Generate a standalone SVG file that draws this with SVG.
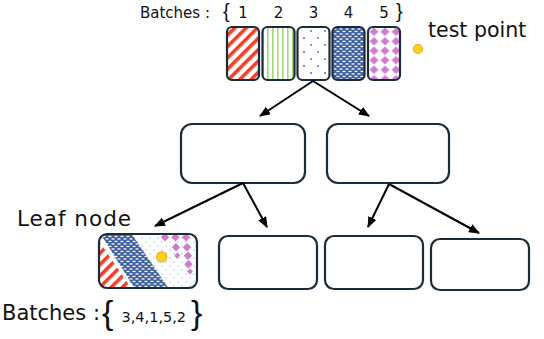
<svg xmlns="http://www.w3.org/2000/svg" width="544" height="339" viewBox="0 0 544 339">
  <style>
    .lbl { font-family: "DejaVu Sans", "Liberation Sans", sans-serif; fill: #111; }
    .brace { font-family: "Liberation Sans", "DejaVu Sans", sans-serif; fill: #111; }
    .box { fill: #fff; stroke: #1c2b3a; stroke-width: 2.2; }
    .frame { fill: none; stroke: #1c2b3a; stroke-width: 2.2; }
    .batch { stroke: #1c2b3a; stroke-width: 2.2; }
    .edge { fill: none; stroke: #000; stroke-width: 2; marker-end: url(#arrow); }
    .sun { fill: #ffd21f; stroke: #f3a91c; stroke-width: 1.2; }
    .dia { fill: #cf7bcf; }
  </style>
  <defs>
    <marker id="arrow" markerUnits="userSpaceOnUse" markerWidth="11" markerHeight="9" refX="10" refY="4.5" orient="auto">
      <path d="M0,0 L11,4.5 L0,9 z" fill="#000"/>
    </marker>
    <!-- batch fills -->
    <pattern id="pRed" width="8" height="8" patternUnits="userSpaceOnUse" patternTransform="rotate(45)">
      <rect width="8" height="8" fill="#fff"/>
      <rect width="3.6" height="8" fill="#f0402a"/>
    </pattern>
    <pattern id="pGreen" width="5" height="10" patternUnits="userSpaceOnUse">
      <rect width="5" height="10" fill="#fff"/>
      <rect x="2" width="1.6" height="10" fill="#a3d97a"/>
    </pattern>
    <pattern id="pDots" width="14" height="14" patternUnits="userSpaceOnUse">
      <rect width="14" height="14" fill="#fff"/>
      <circle cx="3" cy="3" r="0.9" fill="#3f6cb5"/>
      <circle cx="10" cy="10" r="0.9" fill="#3f6cb5"/>
    </pattern>
    <pattern id="pBlue" width="6" height="5" patternUnits="userSpaceOnUse">
      <rect width="6" height="5" fill="#3d5f9f"/>
      <rect x="0.5" y="0.8" width="3" height="1.3" fill="#fff"/>
      <rect x="3.5" y="3.3" width="3" height="1.3" fill="#fff"/>
      <rect x="-2.5" y="3.3" width="3" height="1.3" fill="#fff"/>
    </pattern>
    <pattern id="pPink" width="11" height="9.5" patternUnits="userSpaceOnUse" x="368.5" y="27">
      <rect width="11" height="9.5" fill="#fff"/>
      <polygon points="5.5,0.5 10,4.75 5.5,9 1,4.75" fill="#cf7bcf"/>
    </pattern>
    <pattern id="pSky" width="8" height="8" patternUnits="userSpaceOnUse">
      <rect width="8" height="8" fill="#fff"/>
      <circle cx="2" cy="2" r="0.7" fill="#86c5ea"/>
      <circle cx="6" cy="6" r="0.7" fill="#86c5ea"/>
    </pattern>
    <clipPath id="leafClip">
      <rect x="99" y="234" width="98" height="54" rx="8"/>
    </clipPath>
  </defs>

  <!-- batch header -->
  <g id="batch-header">
    <text class="lbl" x="140" y="18" font-size="15">Batches :</text>
    <text class="brace" x="223" y="18" font-size="20">{</text>
    <text class="brace" x="396" y="18" font-size="20">}</text>
    <g class="lbl" font-size="15" text-anchor="middle">
      <text x="243" y="18">1</text>
      <text x="278.5" y="18">2</text>
      <text x="313.5" y="18">3</text>
      <text x="348.5" y="18">4</text>
      <text x="384" y="18">5</text>
    </g>
  </g>

  <!-- batches -->
  <g id="batch-1"><rect class="batch" x="227" y="27" width="32" height="53" rx="5" style="fill:url(#pRed)"/></g>
  <g id="batch-2"><rect class="batch" x="262.5" y="27" width="32" height="53" rx="5" style="fill:url(#pGreen)"/></g>
  <g id="batch-3"><rect class="batch" x="297.5" y="27" width="32" height="53" rx="5" style="fill:url(#pDots)"/></g>
  <g id="batch-4"><rect class="batch" x="332.5" y="27" width="32" height="53" rx="5" style="fill:url(#pBlue)"/></g>
  <g id="batch-5"><rect class="batch" x="368" y="27" width="32" height="53" rx="5" style="fill:url(#pPink)"/></g>

  <!-- test point -->
  <g id="test-point">
    <circle class="sun" cx="418" cy="49" r="4.5"/>
    <text class="lbl" x="428" y="36.5" font-size="20.5">test point</text>
  </g>

  <!-- internal nodes -->
  <g id="node-left"><rect class="box" x="181" y="124" width="124" height="59" rx="11"/></g>
  <g id="node-right"><rect class="box" x="327" y="124" width="122" height="59" rx="11"/></g>

  <!-- leaves -->
  <g id="leaf-1">
    <g clip-path="url(#leafClip)">
      <rect x="99" y="234" width="98" height="54" fill="url(#pSky)"/>
      <polygon points="99,241 131,288 99,288" fill="url(#pRed)"/>
      <polygon points="100,233 131,233 169,289 135,289" fill="url(#pBlue)"/>
      <g class="dia">
        <polygon points="165,233 169.2,237.2 165,241.4 160.8,237.2"/>
        <polygon points="175.5,233 179.7,237.2 175.5,241.4 171.3,237.2"/>
        <polygon points="186,233 190.2,237.2 186,241.4 181.8,237.2"/>
        <polygon points="176,243 180.2,247.2 176,251.4 171.8,247.2"/>
        <polygon points="187,243 191.2,247.2 187,251.4 182.8,247.2"/>
        <polygon points="177.5,252.5 180.3,255.5 177,258.8 174.2,255.8"/>
        <polygon points="188,251.5 192.2,255.7 188,259.9 183.8,255.7"/>
        <polygon points="188.5,260 192.7,264.2 188.5,268.4 184.3,264.2"/>
        <polygon points="190,268.5 193,271.5 190,274.5 187,271.5"/>
      </g>
    </g>
    <rect class="frame" x="99" y="234" width="98" height="54" rx="8"/>
    <circle class="sun" cx="161.7" cy="256.8" r="5"/>
  </g>
  <g id="leaf-2"><rect class="box" x="219" y="236" width="98" height="53" rx="9"/></g>
  <g id="leaf-3"><rect class="box" x="325" y="236" width="98" height="53" rx="9"/></g>
  <g id="leaf-4"><rect class="box" x="431" y="239" width="98" height="51" rx="9"/></g>

  <!-- connectors -->
  <g id="connectors">
    <path class="edge" d="M313,81 L260,116"/>
    <path class="edge" d="M313,81 L369,116"/>
    <path class="edge" d="M243,183 L155,226"/>
    <path class="edge" d="M243,183 L267,227"/>
    <path class="edge" d="M389,184 L368,227"/>
    <path class="edge" d="M389,184 L479,233"/>
  </g>

  <!-- leaf annotations -->
  <g id="leaf-label">
    <text class="lbl" x="17" y="226" font-size="21.5" textLength="114">Leaf node</text>
  </g>
  <g id="leaf-batches">
    <text class="lbl" x="2" y="319.5" font-size="21">Batches :</text>
    <text class="brace" x="102" y="324" font-size="34">{</text>
    <text class="lbl" x="121.5" y="321.5" font-size="14.5">3,4,1,5,2</text>
    <text class="brace" x="191" y="324" font-size="34">}</text>
  </g>
</svg>
